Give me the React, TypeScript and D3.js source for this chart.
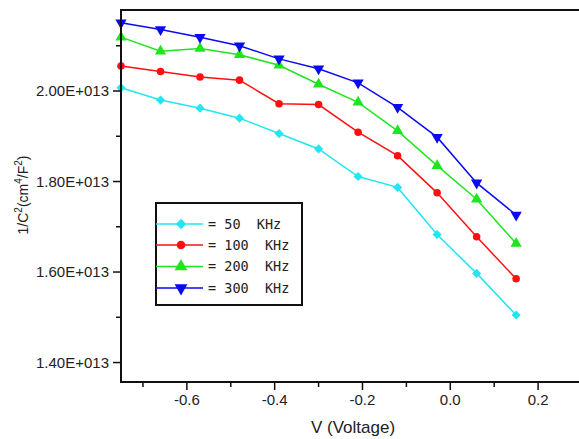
import React from "react";
import * as d3 from "d3";

const voltages = [-0.75, -0.66, -0.57, -0.48, -0.39, -0.3, -0.21, -0.12, -0.03, 0.06, 0.15];
const s50 = [2.007, 1.98, 1.962, 1.94, 1.906, 1.872, 1.811, 1.787, 1.683, 1.597, 1.505];
const s100 = [2.055, 2.043, 2.031, 2.024, 1.972, 1.97, 1.909, 1.857, 1.775, 1.678, 1.585];
const s200 = [2.119, 2.088, 2.094, 2.08, 2.057, 2.015, 1.975, 1.912, 1.835, 1.761, 1.663];
const s300 = [2.151, 2.136, 2.119, 2.1, 2.071, 2.049, 2.018, 1.964, 1.898, 1.797, 1.726];
const seriesNames = ["= 50  KHz", "= 100  KHz", "= 200  KHz", "= 300  KHz"];
const xMajorTicks = [-0.6, -0.4, -0.2, 0.0, 0.2];
const xMinorTicks = [-0.7, -0.5, -0.3, -0.1, 0.1];
const yMajorTicks = [1.4e13, 1.6e13, 1.8e13, 2.0e13];
const yMinorTicks = [1.5e13, 1.7e13, 1.9e13, 2.1e13];

const W = 579;
const H = 439;
const left = 121, right = 582, top = 10, bottom = 382;

export default function App() {
  const x = d3.scaleLinear().domain([-0.75, 0.3]).range([left, right]);
  const y = d3.scaleLinear().domain([1.357e13, 2.179e13]).range([bottom, top]);

  const series = [
    { name: seriesNames[0], vals: s50, color: "#22e6f0", sym: d3.symbolSquare, size: 42, rot: 45 },
    { name: seriesNames[1], vals: s100, color: "#ff1010", sym: d3.symbolCircle, size: 45, rot: 0 },
    { name: seriesNames[2], vals: s200, color: "#1ee61e", sym: d3.symbolTriangle, size: 55, rot: 0 },
    { name: seriesNames[3], vals: s300, color: "#0a0af0", sym: d3.symbolTriangle, size: 55, rot: 180 },
  ];

  const line = d3
    .line<[number, number]>()
    .x((d) => x(d[0]))
    .y((d) => y(d[1] * 1e13));

  const fmtY = (v: number) => (v / 1e13).toFixed(2) + "E+013";
  const fmtX = (v: number) => v.toFixed(1);
  const font = "Liberation Sans, Arial, sans-serif";

  const legX = 156, legY = 203, legW = 146, legH = 102;
  const legRows = [224, 245, 266.5, 288];

  return (
    <svg width={W} height={H} style={{ position: "absolute", left: 0, top: 0, background: "#fff" }}>
      <defs>
        <clipPath id="plotclip">
          <rect x={left - 8} y={top - 8} width={right - left + 16} height={bottom - top + 16} />
        </clipPath>
      </defs>
      {/* series */}
      <g clipPath="url(#plotclip)">
        {series.map((s, i) => {
          const pts: [number, number][] = voltages.map((v, j) => [v, s.vals[j]]);
          const symPath = d3.symbol().type(s.sym).size(s.size)() || "";
          return (
            <g key={i}>
              <path d={line(pts) || ""} fill="none" stroke={s.color} strokeWidth={1.5} />
              {pts.map((p, j) => (
                <path
                  key={j}
                  d={symPath}
                  fill={s.color}
                  transform={`translate(${x(p[0])},${y(p[1] * 1e13)}) rotate(${s.rot})`}
                />
              ))}
            </g>
          );
        })}
      </g>
      {/* frame */}
      <rect x={left} y={top} width={right - left} height={bottom - top} fill="none" stroke="#111" strokeWidth={2} />
      {/* y ticks */}
      {yMajorTicks.map((t) => (
        <g key={"ym" + t}>
          <line x1={left - 8} x2={left} y1={y(t)} y2={y(t)} stroke="#111" strokeWidth={1.5} />
          <text x={left - 12} y={y(t)} dy="0.36em" textAnchor="end" fontFamily={font} fontSize={15} fill="#222">
            {fmtY(t)}
          </text>
        </g>
      ))}
      {yMinorTicks.map((t) => (
        <line key={"yn" + t} x1={left - 5} x2={left} y1={y(t)} y2={y(t)} stroke="#111" strokeWidth={1.5} />
      ))}
      {/* x ticks */}
      {xMajorTicks.map((t) => (
        <g key={"xm" + t}>
          <line x1={x(t)} x2={x(t)} y1={bottom} y2={bottom + 8} stroke="#111" strokeWidth={1.5} />
          <text x={x(t)} y={bottom + 23} textAnchor="middle" fontFamily={font} fontSize={15} fill="#222">
            {fmtX(t)}
          </text>
        </g>
      ))}
      {xMinorTicks.map((t) => (
        <line key={"xn" + t} x1={x(t)} x2={x(t)} y1={bottom} y2={bottom + 5} stroke="#111" strokeWidth={1.5} />
      ))}
      {/* axis titles */}
      <text x={353} y={433} textAnchor="middle" fontFamily={font} fontSize={17} fill="#222">
        V (Voltage)
      </text>
      <text
        transform="translate(28,195) rotate(-90)"
        textAnchor="middle"
        fontFamily={font}
        fontSize={14}
        fill="#222"
      >
        1/C
        <tspan dy="-6" fontSize={10}>2</tspan>
        <tspan dy="6">(cm</tspan>
        <tspan dy="-6" fontSize={10}>4</tspan>
        <tspan dy="6">/F</tspan>
        <tspan dy="-6" fontSize={10}>2</tspan>
        <tspan dy="6">)</tspan>
      </text>
      {/* legend */}
      <rect x={legX} y={legY} width={legW} height={legH} fill="#fff" stroke="#111" strokeWidth={2} />
      {series.map((s, i) => {
        const symPath = d3.symbol().type(s.sym).size(s.size * 1.3)() || "";
        const yy = legRows[i];
        return (
          <g key={"leg" + i}>
            <line x1={legX} x2={203} y1={yy} y2={yy} stroke={s.color} strokeWidth={1.5} />
            <path d={symPath} fill={s.color} transform={`translate(181,${yy}) rotate(${s.rot})`} />
            <text
              x={208}
              y={yy}
              dy="0.36em"
              fontFamily="DejaVu Sans Mono, monospace"
              fontSize={13.5}
              fill="#222"
              style={{ whiteSpace: "pre" }}
            >
              {s.name}
            </text>
          </g>
        );
      })}
    </svg>
  );
}
